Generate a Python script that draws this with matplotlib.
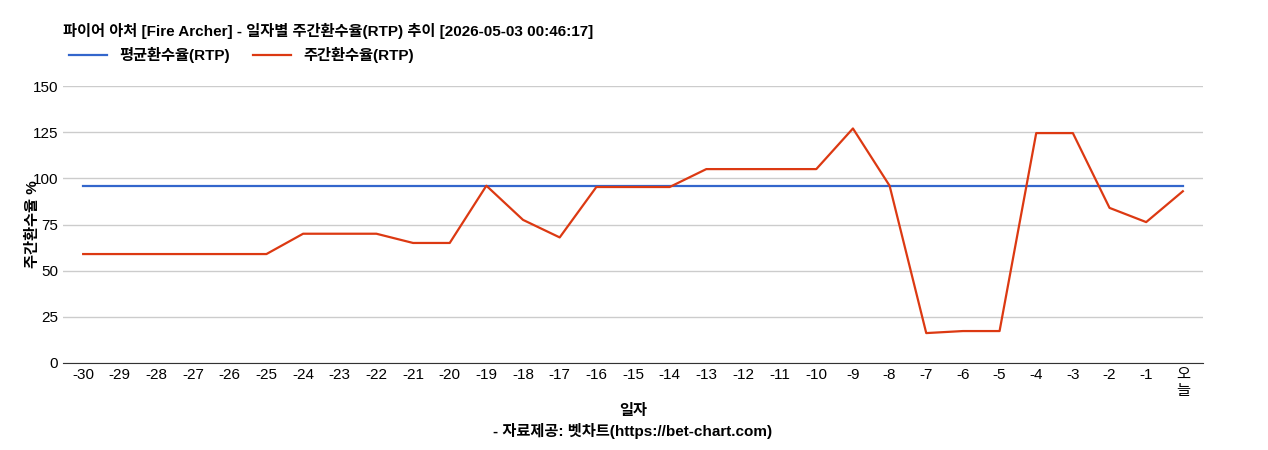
import matplotlib
matplotlib.use('Agg')
import matplotlib.pyplot as plt

plt.rcParams['font.family'] = ['Liberation Sans', 'Noto Sans CJK KR', 'DejaVu Sans']

days = [str(d) for d in range(-30, 0)] + ['오\n늘']
weekly = [59, 59, 59, 59, 59, 59, 70, 70, 70, 65, 65, 96, 77.5, 68, 95.3, 95.3, 95.3,
          105, 105, 105, 105, 127, 96, 16.2, 17.3, 17.3, 124.5, 124.5, 84, 76.3, 93]
avg = [96] * len(days)

fig = plt.figure(figsize=(12.68, 4.5), dpi=100)
ax = fig.add_axes([63 / 1268, 1 - 363 / 450, 1140 / 1268, 277 / 450])
x = list(range(len(days)))
ax.plot(x, avg, color='#3366cc', lw=1.6, label='평균환수율(RTP)')
ax.plot(x, weekly, color='#dc3912', lw=1.6, label='주간환수율(RTP)')
ax.set_xlim(-0.55, len(days) - 0.45)
ax.set_ylim(0, 150)
ax.set_yticks([0, 25, 50, 75, 100, 125, 150])
ax.set_xticks(x)
ax.set_xticklabels(days, fontsize=11)
ax.tick_params(axis='y', labelsize=11, length=0)
ax.tick_params(axis='x', length=0)
ax.grid(axis='y', color='#cccccc', lw=1)
for s in ['top', 'right', 'left']:
    ax.spines[s].set_visible(False)
ax.spines['bottom'].set_color('#333333')
ax.set_axisbelow(True)
ax.set_ylabel('주간환수율 %', fontsize=11, fontweight='bold')
ax.yaxis.set_label_coords(-0.02, 0.5)
ax.set_xlabel('일자\n- 자료제공: 벳차트(https://bet-chart.com)', fontsize=11, fontweight='bold',
              linespacing=1.4, labelpad=4)

fig.text(63 / 1268, 1 - 31 / 450, '파이어 아처 [Fire Archer] - 일자별 주간환수율(RTP) 추이 [2026-05-03 00:46:17]',
         fontsize=11, fontweight='bold', va='center')
fig.legend(loc='center left', bbox_to_anchor=(55 / 1268, 1 - 55 / 450), ncol=2, frameon=False,
           prop={'weight': 'bold', 'size': 11}, handlelength=2.5, columnspacing=1.5)

fig.savefig('out.png', dpi=100)
